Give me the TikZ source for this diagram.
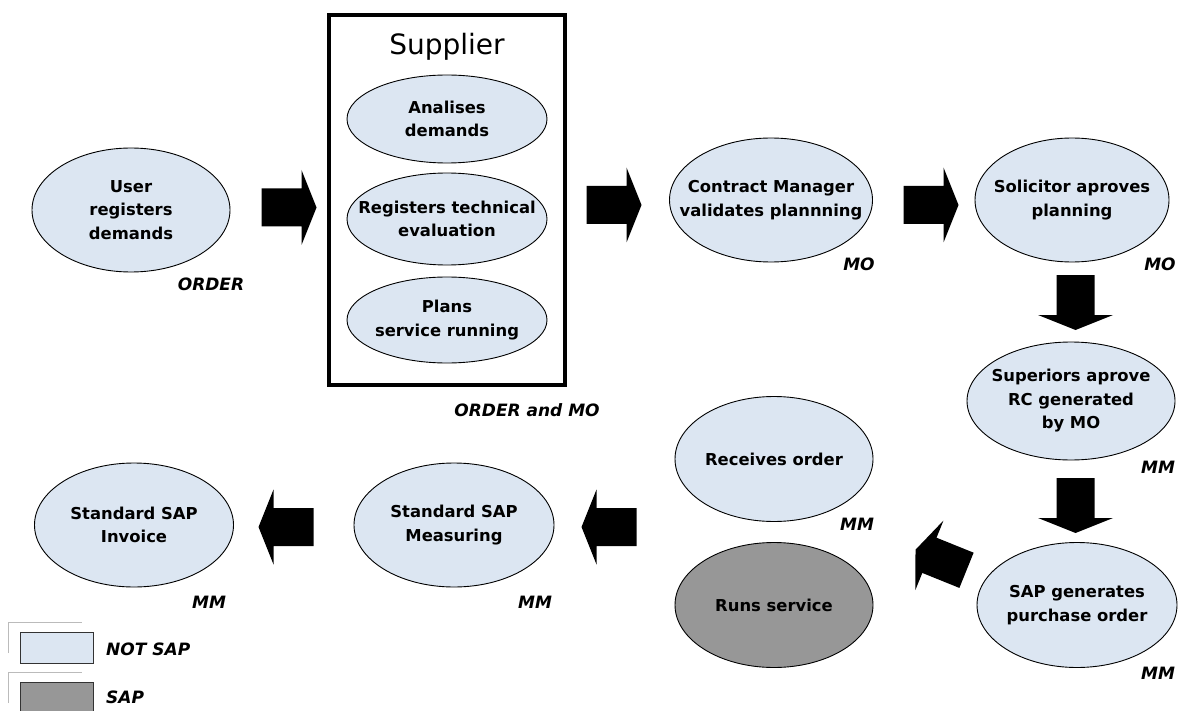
\documentclass[tikz,border=0pt]{standalone}
\usepackage{fontspec}
\setmainfont{DejaVu Sans}
\usetikzlibrary{shapes.geometric}
\definecolor{notsap}{HTML}{DCE6F2}
\definecolor{sapgray}{HTML}{979797}
\definecolor{faint}{HTML}{BBBBBB}
\begin{document}
\begin{tikzpicture}[x=1pt,y=-1pt,
  proc/.style={ellipse, draw=black, line width=0.9pt, fill=notsap, inner sep=0pt},
  sapproc/.style={proc, fill=sapgray},
  ptext/.style={align=center, inner sep=0pt, font=\fontsize{16.4}{23.5}\selectfont\bfseries},
  tag/.style={anchor=base, inner sep=0pt, font=\fontsize{17}{20}\selectfont\bfseries\itshape},
  blockarrow/.pic={\fill[black] (-27.5,-19)--(12.5,-19)--(12.5,-37.5)--(27.5,0)--(12.5,37.5)--(12.5,19)--(-27.5,19)--cycle;}
]
\useasboundingbox (0,0) rectangle (1182,711);

% ---- top row ----
\node[proc, minimum width=198pt, minimum height=124pt] (user) at (131,210) {};
\node[ptext] at (user) {User\\registers\\demands};
\node[tag] (tuser) at (211,290) {ORDER};

\node[draw=black, line width=4pt, minimum width=236pt, minimum height=370pt, inner sep=0pt] (supbox) at (447,200) {};
\node[anchor=base, inner sep=0pt, font=\fontsize{28}{30}\selectfont] (suptitle) at (447,55) {Supplier};
\node[proc, minimum width=200pt, minimum height=88pt] (analise) at (447,119) {};
\node[ptext] at (analise) {Analises\\demands};
\node[proc, minimum width=200pt, minimum height=92pt] (regtech) at (447,219) {};
\node[ptext] at (regtech) {Registers technical\\evaluation};
\node[proc, minimum width=200pt, minimum height=86pt] (plans) at (447,320) {};
\node[ptext] at (plans) {Plans\\service running};
\node[tag] (tsup) at (527,416) {ORDER and MO};

\node[proc, minimum width=203pt, minimum height=124pt] (contract) at (771,200) {};
\node[ptext] at (contract) {Contract Manager\\validates plannning};
\node[tag] (tcontract) at (859,270) {MO};

\node[proc, minimum width=194pt, minimum height=124pt] (solicitor) at (1072,200) {};
\node[ptext] at (solicitor) {Solicitor aproves\\planning};
\node[tag] (tsolicitor) at (1160,270) {MO};

% ---- right column ----
\node[proc, minimum width=208pt, minimum height=118pt] (superiors) at (1071,401) {};
\node[ptext] at (superiors) {Superiors aprove\\RC generated\\by MO};
\node[tag] (tsuperiors) at (1158,473) {MM};

\node[proc, minimum width=200pt, minimum height=125pt] (sapgen) at (1077,605) {};
\node[ptext] at (sapgen) {SAP generates\\purchase order};
\node[tag] (tsapgen) at (1158,679) {MM};

% ---- middle ----
\node[proc, minimum width=198pt, minimum height=125pt] (receives) at (774,459) {};
\node[ptext] at (receives) {Receives order};
\node[tag] (treceives) at (857,530) {MM};

\node[sapproc, minimum width=198pt, minimum height=125pt] (runs) at (774,605) {};
\node[ptext] at (runs) {Runs service};

% ---- bottom left ----
\node[proc, minimum width=200pt, minimum height=124pt] (measuring) at (454,525) {};
\node[ptext] at (measuring) {Standard SAP\\Measuring};
\node[tag] (tmeasuring) at (535,608) {MM};

\node[proc, minimum width=199pt, minimum height=124pt] (invoice) at (134,525) {};
\node[ptext] at (invoice) {Standard SAP\\Invoice};
\node[tag] (tinvoice) at (209,608) {MM};

% ---- block arrows ----
\pic at (289,207.5) {blockarrow};
\pic at (614,205) {blockarrow};
\pic at (931,205) {blockarrow};
\pic[rotate=-90] at (1075.5,302.5) {blockarrow};
\pic[rotate=-90] at (1075.5,505.5) {blockarrow};
\pic[rotate=158] at (941,560) {blockarrow};
\pic[rotate=180] at (609,527) {blockarrow};
\pic[rotate=180] at (286,527) {blockarrow};

% ---- legend ----
\draw[faint, line width=0.8pt] (8,653) -- (8,622) -- (82,622);
\draw[faint, line width=0.8pt] (8,703) -- (8,672) -- (82,672);
\node[draw=black!80, line width=0.8pt, fill=notsap, minimum width=73pt, minimum height=31pt, inner sep=0pt] (lnotsap) at (56.5,647.5) {};
\node[draw=black!80, line width=0.8pt, fill=sapgray, minimum width=73pt, minimum height=31pt, inner sep=0pt] (lsap) at (56.5,697.5) {};
\node[tag, anchor=base west] (tnotsap) at (106,655) {NOT SAP};
\node[tag, anchor=base west] (tsap) at (106,703) {SAP};
\end{tikzpicture}
\end{document}
